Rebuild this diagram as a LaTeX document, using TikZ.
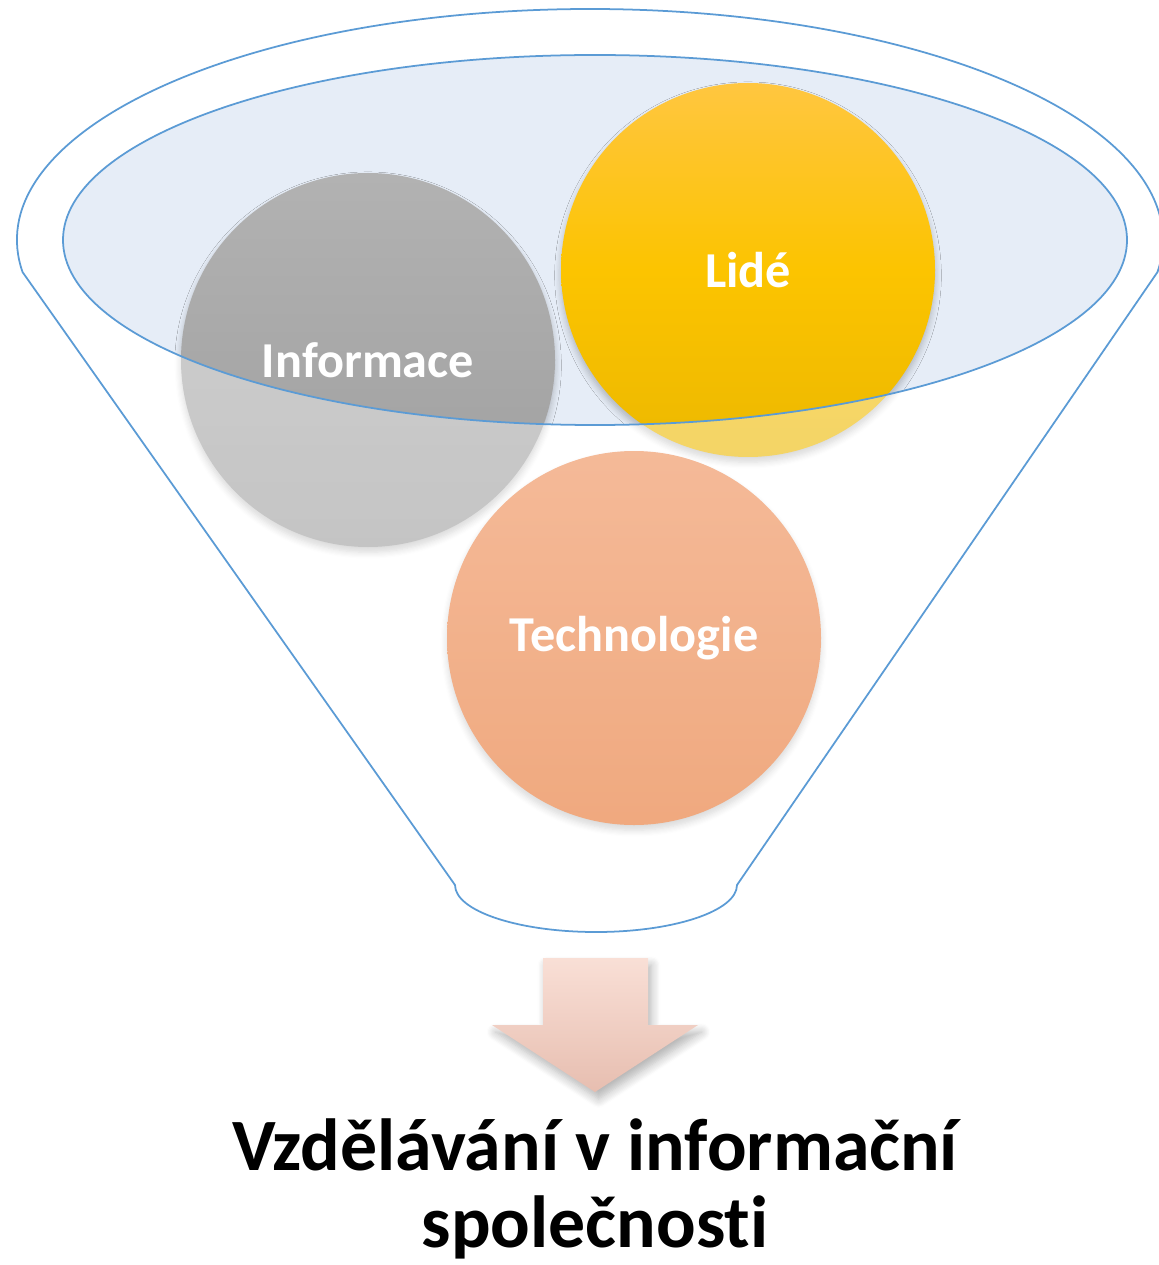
\documentclass[tikz,border=0pt]{standalone}
\usepackage{fontspec}
\setmainfont{Carlito}[Ligatures=NoCommon]
\usetikzlibrary{shadows.blur}
\definecolor{funnelline}{RGB}{91,155,213}
\definecolor{funnelfill}{RGB}{230,237,247}
\definecolor{infotop}{RGB}{178,178,178}
\definecolor{infobot}{RGB}{158,158,158}
\definecolor{lidetop}{RGB}{255,198,64}
\definecolor{lidemid}{RGB}{252,196,0}
\definecolor{lidebot}{RGB}{236,184,0}
\definecolor{techtop}{RGB}{238,140,84}
\definecolor{techbot}{RGB}{230,112,42}
\definecolor{arrtop}{RGB}{249,223,214}
\definecolor{arrbot}{RGB}{231,190,176}
\newcommand{\FunnelPath}{([shift={(5.90,-2.40)}]188:5.73 and 2.31)
  arc[start angle=188, end angle=-8, x radius=5.73, y radius=2.31]
  -- (7.37,-8.85) arc[start angle=0, end angle=-180, x radius=1.41, y radius=0.47] -- cycle}
\newcommand{\FunnelTop}{(5.95,-2.40) ellipse [x radius=5.32, y radius=1.85]}

\begin{document}
\begin{tikzpicture}[
    bubble/.style={circle, minimum size=3.74cm, inner sep=0pt, text=white,
                   font=\fontsize{14.3}{16}\selectfont\bfseries,
                   blur shadow={shadow xshift=0pt, shadow yshift=-1.5pt,
                                shadow blur radius=1.8pt, shadow blur steps=6, shadow opacity=25}},
    rim/.style={draw=funnelline, line width=0.5pt}]
    \useasboundingbox (0,0) rectangle (11.58,-12.65);
    % inside of the funnel and the three bubbles in it
    \fill[funnelfill] \FunnelTop;
    \node[bubble, top color=infotop, bottom color=infobot] (info) at (3.68,-3.60) {Informace};
    \node[bubble, top color=lidetop, bottom color=lidebot, middle color=lidemid] (lide) at (7.48,-2.70) {Lidé};
    \node[bubble, top color=techtop, bottom color=techbot] (tech) at (6.34,-6.38) {Technologie};
    % glass of the funnel body
    \fill[white, fill opacity=0.4, even odd rule] \FunnelPath \FunnelTop;
    \draw[rim] \FunnelTop;
    \draw[rim] \FunnelPath;
    % outflow
    \shade[top color=arrtop, bottom color=arrbot,
           blur shadow={shadow xshift=1pt, shadow yshift=-2pt, shadow blur radius=2.5pt,
                        shadow blur steps=8, shadow opacity=30}]
        (5.43,-9.58) -- (6.48,-9.58) -- (6.48,-10.25) -- (6.98,-10.25)
        -- (5.95,-10.92) -- (4.92,-10.25) -- (5.43,-10.25) -- cycle;
    \node[font=\fontsize{21}{22}\selectfont\bfseries, align=center] (title) at (5.95,-11.89)
         {Vzdělávání v informační\\společnosti};
\end{tikzpicture}
\end{document}
